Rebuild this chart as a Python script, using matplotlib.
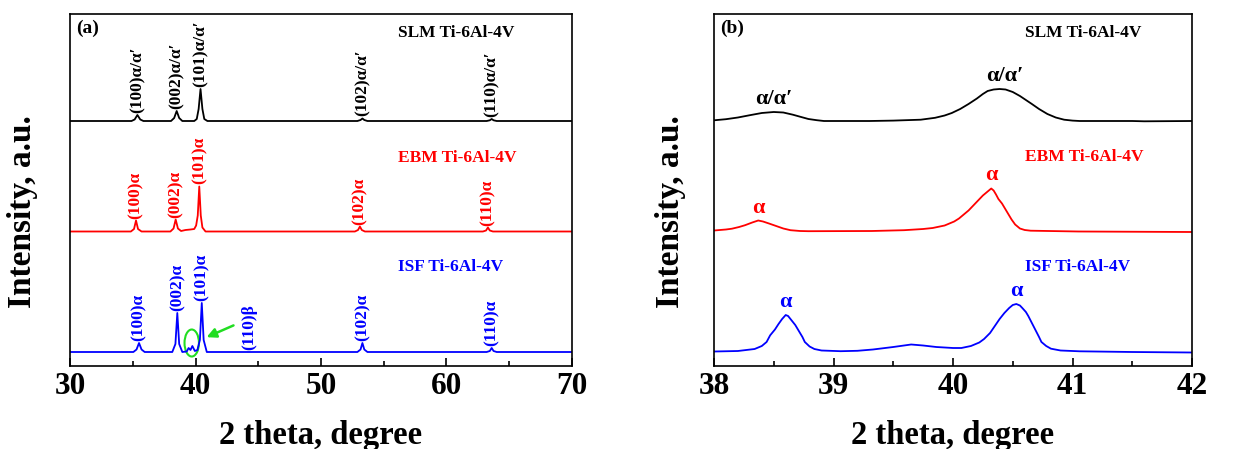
import numpy as np
import matplotlib
matplotlib.use('Agg')
import matplotlib.pyplot as plt
from matplotlib.patches import Ellipse

plt.rcParams['font.family'] = ['Liberation Serif', 'DejaVu Serif']
plt.rcParams['font.weight'] = 'bold'

# ---- panel (a): full scan 30-70 deg (heights above each baseline, a.u.)
slm_a_x = [30, 34.9, 35.15, 35.37, 35.6, 35.85, 38.05, 38.3, 38.5, 38.7, 38.95,
           39.9, 40.1, 40.25, 40.4, 40.55, 40.7, 40.95, 52.9, 53.15, 53.3, 53.45, 53.7,
           63.2, 63.45, 63.6, 63.75, 64.0, 70]
slm_a_h = [0, 0, 1.5, 6, 1.5, 0, 0, 3, 10, 3, 0,
           0, 2, 12, 32, 12, 2, 0, 0, 1, 2.5, 1, 0,
           0, 0.7, 2, 0.7, 0, 0]

ebm_a_x = [30, 34.85, 35.1, 35.26, 35.42, 35.7, 38.0, 38.25, 38.42, 38.6, 38.85,
           39.2, 39.6, 39.9, 40.05, 40.18, 40.3, 40.42, 40.55, 40.8, 52.7, 52.95, 53.1,
           53.25, 53.5, 62.9, 63.15, 63.3, 63.45, 63.7, 70]
ebm_a_h = [0, 0, 2.5, 11, 2.5, 0, 0, 3, 12, 3, 0.5,
           1.5, 2, 2.5, 6, 16, 45, 16, 4, 0, 0, 1.5, 5,
           1.5, 0, 0, 1, 4, 1, 0, 0]

isf_a_x = [30, 35.05, 35.3, 35.5, 35.7, 35.95, 38.15, 38.4, 38.55, 38.7, 38.95,
           39.3, 39.45, 39.6, 39.75, 39.95, 40.15, 40.35, 40.5, 40.65, 40.9,
           52.9, 53.15, 53.3, 53.45, 53.7, 63.2, 63.45, 63.6, 63.75, 64.0, 70]
isf_a_h = [0, 0, 2.5, 9, 2.5, 0, 0, 8, 39, 8, 0,
           0.5, 4, 2, 6, 1, 2, 12, 49, 12, 0,
           0, 2.5, 9, 2.5, 0, 0, 1, 4, 1, 0, 0]

# ---- panel (b): zoom 38-42 deg
slm_b_x = [38.0, 38.10, 38.20, 38.30, 38.40, 38.50, 38.58, 38.66, 38.72, 38.79,
           38.86, 38.92, 39.30, 39.50, 39.73, 39.85, 39.93, 39.99, 40.06, 40.13,
           40.20, 40.25, 40.29, 40.34, 40.39, 40.44, 40.50, 40.56, 40.61, 40.66,
           40.72, 40.79, 40.86, 40.93, 41.00, 41.06, 41.50, 41.60, 42.0]
slm_b_h = [0.7, 1.8, 3.5, 5.8, 8, 9, 8.5, 6.3, 4.3, 2,
           0.8, 0, 0, 0.4, 1.3, 3.2, 5.5, 8, 12, 17,
           22.5, 27, 30, 31.5, 32, 31.5, 29, 25, 21, 17,
           12, 7, 3.5, 1.3, 0.4, 0, 0, -0.3, 0]

ebm_b_x = [38.0, 38.10, 38.15, 38.21, 38.26, 38.32, 38.37, 38.41, 38.46, 38.52,
           38.58, 38.64, 38.72, 38.79, 39.32, 39.59, 39.75, 39.83, 39.93, 40.01,
           40.05, 40.09, 40.13, 40.17, 40.21, 40.25, 40.29, 40.32, 40.34, 40.36,
           40.38, 40.41, 40.45, 40.49, 40.52, 40.56, 40.60, 40.65, 41.05, 42.0]
ebm_b_h = [1, 2, 2.8, 4.5, 6.3, 9, 11, 10, 8, 5.5,
           3, 1.3, 0.5, 0.3, 0.5, 1.3, 2.5, 3.5, 6, 10,
           13, 17, 21, 26, 31, 36, 40, 43, 41, 37,
           32.5, 28, 20, 12, 7, 3, 1.5, 0.8, 0, -0.5]

isf_b_x = [38.0, 38.20, 38.34, 38.40, 38.44, 38.47, 38.51, 38.54, 38.57, 38.60,
           38.62, 38.64, 38.66, 38.68, 38.71, 38.74, 38.76, 38.80, 38.84, 38.90,
           39.06, 39.20, 39.33, 39.50, 39.65, 39.75, 39.86, 40.00, 40.07, 40.15,
           40.22, 40.26, 40.31, 40.35, 40.39, 40.43, 40.47, 40.50, 40.53, 40.56,
           40.58, 40.61, 40.63, 40.66, 40.69, 40.72, 40.74, 40.78, 40.82, 40.90,
           41.06, 41.50, 42.0]
isf_b_h = [0.5, 1, 3, 6, 10, 16.7, 22.5, 28, 33, 37,
           36, 33, 30, 27, 21, 15, 10, 5.5, 3, 1.5,
           0.8, 1.2, 2.5, 5, 7.5, 6.5, 5, 4, 4, 6,
           9.5, 13, 19, 26, 33, 39, 44, 47, 48, 46.5,
           44, 40, 36, 29, 22, 15, 10, 6, 3.3, 1.5,
           0.7, 0, -0.5]

names = ['SLM Ti-6Al-4V', 'EBM Ti-6Al-4V', 'ISF Ti-6Al-4V']
colors = ['black', 'red', 'blue']
offsets = [245, 134.5, 14]

# peak labels for panel (a): (2theta, text)
slm_a_labels = [(35.37, "(100)α/α′"), (38.5, "(002)α/α′"), (40.4, "(101)α/α′"),
                (53.3, "(102)α/α′"), (63.6, "(110)α/α′")]
ebm_a_labels = [(35.26, "(100)α"), (38.42, "(002)α"), (40.3, "(101)α"),
                (53.1, "(102)α"), (63.3, "(110)α")]
isf_a_labels = [(35.5, "(100)α"), (38.55, "(002)α"), (40.5, "(101)α"),
                (44.3, "(110)β"), (53.3, "(102)α"), (63.6, "(110)α")]

# peak labels for panel (b)
slm_b_labels = [(38.5, "α/α′"), (40.43, "α/α′")]
ebm_b_labels = [(38.37, "α"), (40.32, "α")]
isf_b_labels = [(38.6, "α"), (40.53, "α")]

fig = plt.figure(figsize=(12.37, 4.49), dpi=100)
axA = fig.add_axes([70 / 1237, 83 / 449, 502 / 1237, 352 / 449])
axB = fig.add_axes([714 / 1237, 83 / 449, 478 / 1237, 352 / 449])


def style_axis(ax, xlim, major, minor, ylab_x):
    ax.set_xlim(*xlim)
    ax.set_ylim(0, 352)
    ax.set_xticks(np.arange(xlim[0], xlim[1] + 0.001, major))
    ax.set_xticks(np.arange(xlim[0], xlim[1] + 0.001, minor), minor=True)
    ax.set_yticks([])
    ax.tick_params(axis='x', which='both', direction='in', top=False, width=1.2,
                   labelsize=22.5, pad=4)
    ax.tick_params(axis='x', which='major', length=6)
    ax.tick_params(axis='x', which='minor', length=3.5)
    for s in ax.spines.values():
        s.set_linewidth(1.2)
    ax.set_xlabel('2 theta, degree', fontsize=23.5, fontweight='bold', labelpad=14)
    ax.set_ylabel('Intensity, a.u.', fontsize=24, fontweight='bold')
    ax.yaxis.set_label_coords(ylab_x, 0.44)


# panel (a)
series_a = [(slm_a_x, slm_a_h, slm_a_labels), (ebm_a_x, ebm_a_h, ebm_a_labels),
            (isf_a_x, isf_a_h, isf_a_labels)]
label_y_a = [333, 208, 99]
for (x, h, labs), c, off, name, ly in zip(series_a, colors, offsets, names, label_y_a):
    h = np.array(h)
    axA.plot(x, h + off, color=c, lw=1.3)
    for px, txt in labs:
        peak = np.interp(px, x, h)
        axA.text(px, off + peak + 2, txt, rotation=90, ha='center', va='bottom',
                 color=c, fontsize=12.5, fontweight='bold')
    axA.text(56.1, ly, name, color=c, fontsize=12.5, fontweight='bold',
             ha='left', va='center')
axA.text(30.5, 346, '(a)', fontsize=14, fontweight='bold', ha='left', va='top')
axA.add_patch(Ellipse((39.7, 23), 1.15, 27, fill=False, ec='#22dd22', lw=1.5))
axA.annotate('', xy=(40.68, 27.7), xytext=(43.23, 41.7),
             arrowprops=dict(arrowstyle='-|>', color='#22dd22', lw=1.8,
                             mutation_scale=14))
style_axis(axA, (30, 70), 10, 5, -0.064)

# panel (b)
series_b = [(slm_b_x, slm_b_h, slm_b_labels), (ebm_b_x, ebm_b_h, ebm_b_labels),
            (isf_b_x, isf_b_h, isf_b_labels)]
label_y_b = [333, 209, 99]
for (x, h, labs), c, off, name, ly in zip(series_b, colors, offsets, names, label_y_b):
    h = np.array(h)
    axB.plot(x, h + off, color=c, lw=1.3)
    for px, txt in labs:
        peak = np.interp(px, x, h)
        axB.text(px, off + peak + 3, txt, ha='center', va='bottom',
                 color=c, fontsize=16, fontweight='bold')
    axB.text(40.6, ly, name, color=c, fontsize=12.5, fontweight='bold',
             ha='left', va='center')
axB.text(38.05, 346, '(b)', fontsize=14, fontweight='bold', ha='left', va='top')
style_axis(axB, (38, 42), 1, 0.5, -0.059)

fig.savefig('out.png', dpi=100)
